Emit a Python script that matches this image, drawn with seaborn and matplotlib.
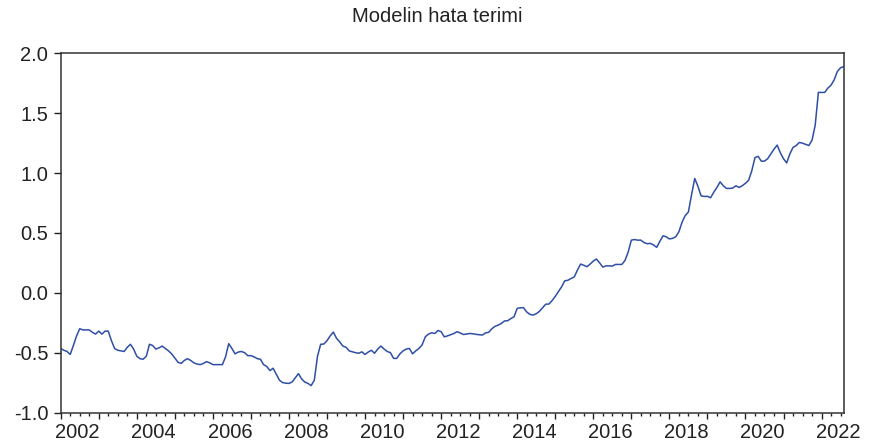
import numpy as np
import pandas as pd
import matplotlib
matplotlib.use("Agg")
import matplotlib.pyplot as plt
import matplotlib.transforms as mtransforms
from matplotlib.ticker import FixedLocator, FormatStrFormatter
import seaborn as sns

# Aylık hata terimi değerleri (2002M01 - 2022M08)
resid_2002_2006 = [
    -0.465, -0.48, -0.49, -0.515, -0.44, -0.36, -0.30, -0.31, -0.31, -0.31, -0.33, -0.345,
    -0.32, -0.345, -0.32, -0.32, -0.40, -0.465, -0.48, -0.485, -0.49, -0.455, -0.43, -0.47,
    -0.53, -0.55, -0.555, -0.53, -0.43, -0.44, -0.47, -0.46, -0.445, -0.465, -0.485, -0.51,
    -0.545, -0.58, -0.59, -0.565, -0.55, -0.565, -0.585, -0.595, -0.60, -0.59, -0.575, -0.585,
    -0.60, -0.60, -0.60, -0.60, -0.535, -0.425, -0.465, -0.51, -0.495, -0.49, -0.50, -0.525,
]
resid_2007_2011 = [
    -0.525, -0.535, -0.55, -0.555, -0.60, -0.615, -0.65, -0.63, -0.68, -0.73, -0.75, -0.755,
    -0.757, -0.745, -0.71, -0.675, -0.72, -0.745, -0.757, -0.775, -0.73, -0.53, -0.43, -0.428,
    -0.40, -0.36, -0.328, -0.38, -0.41, -0.445, -0.455, -0.485, -0.493, -0.50, -0.505, -0.493,
    -0.515, -0.495, -0.48, -0.505, -0.47, -0.445, -0.47, -0.49, -0.50, -0.548, -0.548, -0.51,
    -0.485, -0.47, -0.465, -0.51, -0.485, -0.465, -0.435, -0.368, -0.345, -0.334, -0.34, -0.315,
]
resid_2012_2016 = [
    -0.325, -0.368, -0.36, -0.35, -0.34, -0.325, -0.335, -0.348, -0.345, -0.34, -0.342, -0.347,
    -0.35, -0.353, -0.335, -0.33, -0.30, -0.28, -0.27, -0.256, -0.235, -0.233, -0.215, -0.20,
    -0.13, -0.125, -0.125, -0.16, -0.18, -0.186, -0.175, -0.155, -0.125, -0.095, -0.094, -0.065,
    -0.03, 0.01, 0.05, 0.10, 0.105, 0.12, 0.133, 0.19, 0.24, 0.23, 0.218, 0.24,
    0.265, 0.282, 0.25, 0.215, 0.225, 0.225, 0.223, 0.237, 0.237, 0.237, 0.27, 0.34,
]
resid_2017_2022 = [
    0.44, 0.445, 0.44, 0.44, 0.42, 0.41, 0.413, 0.40, 0.38, 0.43, 0.476, 0.468,
    0.45, 0.455, 0.468, 0.51, 0.59, 0.645, 0.675, 0.82, 0.955, 0.89, 0.81, 0.805,
    0.806, 0.794, 0.84, 0.88, 0.927, 0.895, 0.872, 0.872, 0.875, 0.894, 0.88, 0.895,
    0.915, 0.94, 1.02, 1.13, 1.14, 1.10, 1.10, 1.12, 1.16, 1.20, 1.234, 1.17,
    1.12, 1.085, 1.16, 1.215, 1.23, 1.256, 1.25, 1.24, 1.23, 1.275, 1.40, 1.674,
    1.674, 1.674, 1.71, 1.735, 1.78, 1.85, 1.88, 1.89,
]

resid = resid_2002_2006 + resid_2007_2011 + resid_2012_2016 + resid_2017_2022
start_year = 2002
label_years = list(range(2002, 2023, 2))
y_ticks = [-1.0, -0.5, 0.0, 0.5, 1.0, 1.5, 2.0]

df = pd.DataFrame({"t": start_year + np.arange(len(resid)) / 12.0, "resid": resid})

sns.set_style("ticks")
plt.rcParams["font.family"] = ["Liberation Sans", "DejaVu Sans"]
plt.rcParams["axes.unicode_minus"] = False

fig = plt.figure(figsize=(8.71, 4.45), dpi=100)
ax = fig.add_axes([0.0697, 0.073, 0.899, 0.807])

sns.lineplot(data=df, x="t", y="resid", color="#2f4ea6", linewidth=1.1, ax=ax)

ax.set_xlim(df["t"].iloc[0], df["t"].iloc[-1])
ax.set_ylim(-1.0, 2.0)
ax.set_xlabel("")
ax.set_ylabel("")

# x ekseni: yıllık büyük, çeyreklik küçük çentikler
years = np.arange(2002, 2023)
ax.xaxis.set_major_locator(FixedLocator(years))
ax.set_xticklabels([str(y) if y in label_years else "" for y in years])
quarters = np.arange(2002, 2022.6, 0.25)
ax.xaxis.set_minor_locator(FixedLocator([q for q in quarters if q % 1 != 0]))
ax.tick_params(axis="x", which="major", direction="out", length=4.5, width=1, pad=3,
               labelsize=14.5, colors="#222222")
ax.tick_params(axis="x", which="minor", direction="out", length=2.5, width=1, colors="#222222")
shift = mtransforms.ScaledTranslation(0.17, 0, fig.dpi_scale_trans)
for lbl in ax.get_xticklabels():
    lbl.set_transform(lbl.get_transform() + shift)

ax.set_yticks(y_ticks)
ax.yaxis.set_major_formatter(FormatStrFormatter("%.1f"))
ax.tick_params(axis="y", direction="out", length=5, width=1, pad=4, labelsize=14.5, colors="#222222")

for side in ["top", "bottom", "left", "right"]:
    ax.spines[side].set_visible(True)
    ax.spines[side].set_color("#333333")
    ax.spines[side].set_linewidth(1.1)

fig.text(0.502, 0.963, "Modelin hata terimi", ha="center", va="center", fontsize=14.5, color="#222222")

fig.savefig("out.png", dpi=100)
